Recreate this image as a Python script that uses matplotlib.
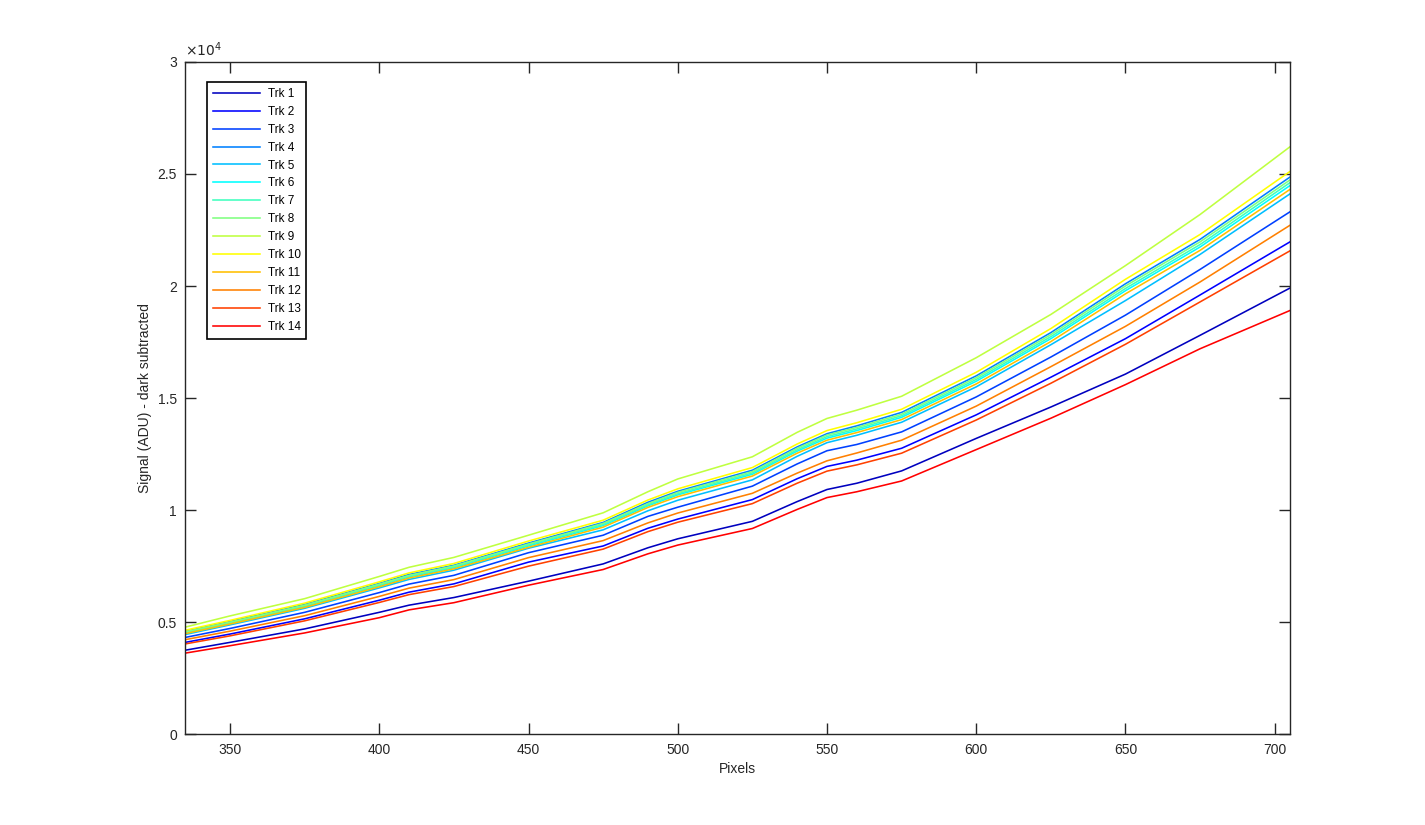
import matplotlib
matplotlib.use("Agg")
import matplotlib.pyplot as plt
import numpy as np
from matplotlib.ticker import FuncFormatter

plt.rcParams['font.family'] = ['Liberation Sans', 'DejaVu Sans']

# pixel positions where values were read
pixels = [335, 350, 375, 400, 410, 425, 450, 475, 490, 500,
          525, 540, 550, 560, 575, 600, 625, 650, 675, 705]

# signal in thousands of ADU, one list per track
trk1 = [3.75, 4.10, 4.70, 5.44, 5.76, 6.10, 6.83, 7.60, 8.32, 8.72,
        9.50, 10.38, 10.92, 11.20, 11.75, 13.20, 14.60, 16.07, 17.80, 19.90]
trk2 = [4.10, 4.47, 5.15, 5.98, 6.34, 6.71, 7.68, 8.40, 9.19, 9.60,
        10.47, 11.40, 11.95, 12.23, 12.76, 14.25, 15.93, 17.65, 19.60, 21.96]
trk3 = [4.32, 4.72, 5.44, 6.32, 6.70, 7.09, 8.10, 8.88, 9.72, 10.13,
        11.07, 12.06, 12.65, 12.93, 13.49, 15.05, 16.83, 18.70, 20.74, 23.30]
trk4 = [4.59, 5.03, 5.79, 6.73, 7.13, 7.54, 8.53, 9.45, 10.35, 10.84,
        11.78, 12.82, 13.41, 13.76, 14.36, 15.99, 17.92, 20.10, 22.08, 24.85]
trk5 = [4.45, 4.88, 5.62, 6.53, 6.91, 7.32, 8.30, 9.12, 9.97, 10.44,
        11.35, 12.40, 13.01, 13.34, 13.92, 15.50, 17.38, 19.35, 21.41, 24.10]
trk6 = [4.52, 4.95, 5.70, 6.63, 7.02, 7.43, 8.40, 9.31, 10.19, 10.68,
        11.60, 12.63, 13.21, 13.55, 14.14, 15.75, 17.65, 19.79, 21.74, 24.47]
trk7 = [4.55, 4.98, 5.73, 6.66, 7.06, 7.47, 8.45, 9.36, 10.24, 10.73,
        11.66, 12.69, 13.28, 13.62, 14.21, 15.83, 17.74, 19.89, 21.85, 24.60]
trk8 = [4.57, 5.00, 5.76, 6.70, 7.09, 7.51, 8.49, 9.41, 10.29, 10.79,
        11.72, 12.76, 13.35, 13.69, 14.28, 15.91, 17.83, 20.00, 21.97, 24.72]
trk9 = [4.78, 5.28, 6.05, 7.04, 7.45, 7.89, 8.88, 9.88, 10.82, 11.39,
        12.38, 13.47, 14.09, 14.46, 15.08, 16.80, 18.73, 20.91, 23.19, 26.20]
trk10 = [4.64, 5.08, 5.85, 6.80, 7.20, 7.62, 8.62, 9.55, 10.45, 10.95,
         11.90, 12.95, 13.55, 13.90, 14.50, 16.15, 18.10, 20.30, 22.30, 25.10]
trk11 = [4.49, 4.92, 5.66, 6.58, 6.97, 7.38, 8.34, 9.24, 10.12, 10.60,
         11.52, 12.54, 13.12, 13.46, 14.04, 15.63, 17.52, 19.65, 21.59, 24.30]
trk12 = [4.22, 4.60, 5.29, 6.15, 6.52, 6.90, 7.88, 8.64, 9.43, 9.87,
         10.75, 11.65, 12.20, 12.55, 13.12, 14.64, 16.40, 18.20, 20.18, 22.70]
trk13 = [4.03, 4.39, 5.06, 5.88, 6.23, 6.59, 7.50, 8.26, 9.04, 9.46,
         10.29, 11.20, 11.74, 12.02, 12.54, 14.02, 15.66, 17.40, 19.29, 21.56]
trk14 = [3.62, 3.95, 4.52, 5.20, 5.55, 5.87, 6.65, 7.35, 8.05, 8.44,
         9.18, 10.03, 10.56, 10.82, 11.30, 12.70, 14.10, 15.60, 17.20, 18.90]

tracks = [trk1, trk2, trk3, trk4, trk5, trk6, trk7,
          trk8, trk9, trk10, trk11, trk12, trk13, trk14]
labels = ["Trk %d" % (i + 1) for i in range(len(tracks))]

# first 14 colours of MATLAB jet(16)
colors = [(0, 0, 0.75), (0, 0, 1), (0, 0.25, 1), (0, 0.5, 1), (0, 0.75, 1),
          (0, 1, 1), (0.25, 1, 0.75), (0.5, 1, 0.5), (0.75, 1, 0.25),
          (1, 1, 0), (1, 0.75, 0), (1, 0.5, 0), (1, 0.25, 0), (1, 0, 0)]

fig = plt.figure(figsize=(14.25, 8.25), dpi=100)
ax = fig.add_axes([0.13, 0.11, 0.775, 0.815])

for vals, lab, col in zip(tracks, labels, colors):
    ax.plot(pixels, np.array(vals) * 1000, color=col, linewidth=1.15, label=lab)

ax.set_xlim(335, 705)
ax.set_ylim(0, 30000)
ax.set_xticks(np.arange(350, 701, 50))
ax.set_yticks(np.arange(0, 30001, 5000))
ax.yaxis.set_major_formatter(FuncFormatter(lambda v, p: "%g" % (v / 1e4)))

axcol = (0.15, 0.15, 0.15)
for s in ax.spines.values():
    s.set_color(axcol)
    s.set_linewidth(1.0)
ax.tick_params(direction='in', length=8, width=1.0, colors=axcol,
               labelsize=10, top=True, right=True, pad=6)

ax.text(0.0, 1.005, r"$\times10^{4}$", transform=ax.transAxes,
        fontsize=10, color=axcol, ha='left', va='bottom')

ax.set_xlabel("Pixels", fontsize=10, color=axcol)
ax.set_ylabel("Signal (ADU) - dark subtracted", fontsize=10, color=axcol)

leg = ax.legend(loc='upper left', bbox_to_anchor=(0.02, 0.97), borderaxespad=0,
                fontsize=8.5, handlelength=4.0, labelspacing=0.5,
                fancybox=False, framealpha=1, edgecolor='black',
                borderpad=0.5, handletextpad=0.6)
leg.get_frame().set_linewidth(1.2)

fig.savefig("out.png", dpi=100)
